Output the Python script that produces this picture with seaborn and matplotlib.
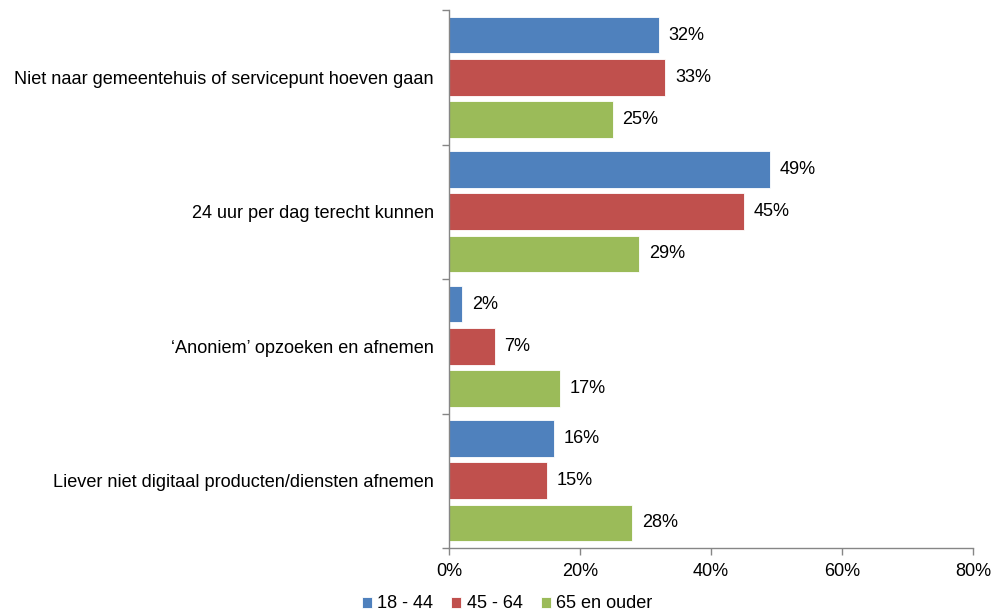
import matplotlib
matplotlib.use("Agg")
import matplotlib.pyplot as plt
import seaborn as sns
import pandas as pd
import numpy as np

categories = [
    "Niet naar gemeentehuis of servicepunt hoeven gaan",
    "24 uur per dag terecht kunnen",
    "\u2018Anoniem\u2019 opzoeken en afnemen",
    "Liever niet digitaal producten/diensten afnemen",
]
series = ["18 - 44", "45 - 64", "65 en ouder"]
values_18_44 = [32, 49, 2, 16]
values_45_64 = [33, 45, 7, 15]
values_65 = [25, 29, 17, 28]
colors = ["#4F81BD", "#C0504D", "#9BBB59"]
xticks = [0, 20, 40, 60, 80]

rows = []
for s, vals in zip(series, [values_18_44, values_45_64, values_65]):
    for c, v in zip(categories, vals):
        rows.append({"cat": c, "grp": s, "val": v})
df = pd.DataFrame(rows)

sns.set_style("white")
plt.rcParams["font.family"] = ["Liberation Sans", "DejaVu Sans"]
plt.rcParams["text.color"] = "black"
plt.rcParams["xtick.color"] = "#868686"
plt.rcParams["ytick.color"] = "#868686"
plt.rcParams["xtick.labelcolor"] = "black"
plt.rcParams["ytick.labelcolor"] = "black"

FS = 13.1

fig = plt.figure(figsize=(9.92, 6.15), dpi=100)
ax = fig.add_axes([449/992, 1-548/615, (973-449)/992, (548-10)/615])

sns.barplot(data=df, y="cat", x="val", hue="grp", order=categories,
            hue_order=series, palette=colors, orient="h", width=0.94, gap=0.13,
            edgecolor="white", linewidth=0.6, ax=ax, legend=True, saturation=1)

for cont in ax.containers:
    ax.bar_label(cont, labels=[f"{v:.0f}%" for v in cont.datavalues],
                 padding=7, fontsize=FS, color="black")

ax.set_xlim(0, 80)
ax.set_ylim(len(categories) - 0.5, -0.5)
ax.set_xticks(xticks)
ax.set_xticklabels([f"{t}%" for t in xticks], fontsize=FS)
ax.set_yticks(range(len(categories)))
ax.set_yticklabels(categories, fontsize=FS)
ax.set_yticks(np.arange(-0.5, len(categories), 1), minor=True)
ax.tick_params(axis="y", which="major", length=0, pad=11)
ax.tick_params(axis="y", which="minor", length=5, color="#868686", width=1, direction="out", left=True)
ax.tick_params(axis="x", which="major", length=5, color="#868686", width=1, direction="out", bottom=True, pad=6)
ax.set_xlabel("")
ax.set_ylabel("")
for sp in ["top", "right"]:
    ax.spines[sp].set_visible(False)
for sp in ["left", "bottom"]:
    ax.spines[sp].set_color("#868686")
    ax.spines[sp].set_linewidth(1)

handles, labels = ax.get_legend_handles_labels()
ax.get_legend().remove()
fig.legend(handles, labels, loc="center", bbox_to_anchor=(507/992, 1-604/615),
           ncol=3, frameon=False, fontsize=FS, handlelength=0.55, handleheight=0.55,
           handletextpad=0.3, columnspacing=1.0)

fig.savefig("out.png", dpi=100)
